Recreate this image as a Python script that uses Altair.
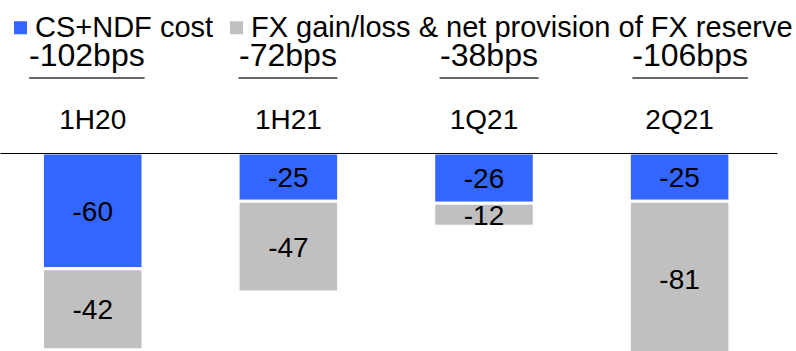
import altair as alt
import pandas as pd

# Reporting periods and the headline total for each one
periods = ["1H20", "1H21", "1Q21", "2Q21"]
totals = ["-102bps", "-72bps", "-38bps", "-106bps"]

# Components (bps)
cs_ndf_cost = [-60, -25, -26, -25]
fx_gain_loss = [-42, -47, -12, -81]

series = ["CS+NDF cost", "FX gain/loss & net provision of FX reserve"]
colors = ["#3366FF", "#C0C0C0"]

FONT = "Liberation Sans"

rows = []
for p, a, b in zip(periods, cs_ndf_cost, fx_gain_loss):
    rows.append({"period": p, "series": series[0], "value": a, "rank": 0})
    rows.append({"period": p, "series": series[1], "value": b, "rank": 1})
seg = pd.DataFrame(rows)
head = pd.DataFrame({"period": periods, "total": totals})

band_scale = alt.Scale(paddingInner=0.486, paddingOuter=0.229, align=0.474)

x_axis = alt.Axis(
    orient="top", title=None, ticks=False, grid=False, labelAngle=0,
    labelFontSize=28, labelFont=FONT, labelColor="black", labelPadding=19,
    domainColor="black", domainWidth=1, zindex=1,
)
x_band = alt.X("period:N", sort=periods, scale=band_scale, axis=x_axis)

stacked = alt.Chart(seg).transform_stack(
    stack="value", groupby=["period"],
    sort=[alt.SortField("rank", order="ascending")],
    as_=["v0", "v1"],
)

y_scale = alt.Scale(domain=[-102.6, 0], nice=False, zero=False)

bars = stacked.mark_bar(stroke="white", strokeWidth=3).encode(
    x=x_band,
    y=alt.Y("v0:Q", scale=y_scale, axis=None),
    y2="v1:Q",
    color=alt.Color(
        "series:N",
        scale=alt.Scale(domain=series, range=colors),
        legend=alt.Legend(
            orient="none", legendX=6, legendY=-140, direction="horizontal",
            title=None, symbolType="square", symbolSize=169,
            symbolStrokeWidth=0, labelFontSize=29, labelFont=FONT,
            labelColor="black", labelOffset=0, columnPadding=8,
            padding=0, offset=0, labelLimit=1000,
        ),
    ),
)

seg_text = stacked.transform_calculate(
    mid="(datum.v0 + datum.v1) / 2"
).mark_text(fontSize=28, font=FONT, color="black", baseline="middle", dy=2).encode(
    x=x_band,
    y=alt.Y("mid:Q", scale=y_scale, axis=None),
    text=alt.Text("value:N"),
)

x_head = alt.X("period:N", sort=periods, scale=alt.Scale(type="point", padding=0.432), axis=None)

head_text = alt.Chart(head).mark_text(
    fontSize=32, font=FONT, color="black", baseline="alphabetic", align="center"
).encode(
    x=x_head,
    y=alt.value(-86.6),
    text="total:N",
)

underline = alt.Chart(head).transform_calculate(
    w="length(datum.total) * 16.5"
).mark_tick(orient="horizontal", thickness=1.3, color="#333333", opacity=1).encode(
    x=x_head,
    y=alt.value(-75),
    size=alt.Size("w:Q", scale=None),
)

chart = (
    alt.layer(alt.layer(bars, seg_text), alt.layer(head_text, underline))
    .resolve_scale(x="independent")
    .properties(
        width=777, height=198,
        padding={"left": 0, "top": 153, "right": 19, "bottom": 0},
        autosize=alt.AutoSizeParams(type="none"),
    )
    .configure_view(stroke=None)
)

chart.save("out.html", embed_options={"renderer": "svg", "actions": False})
